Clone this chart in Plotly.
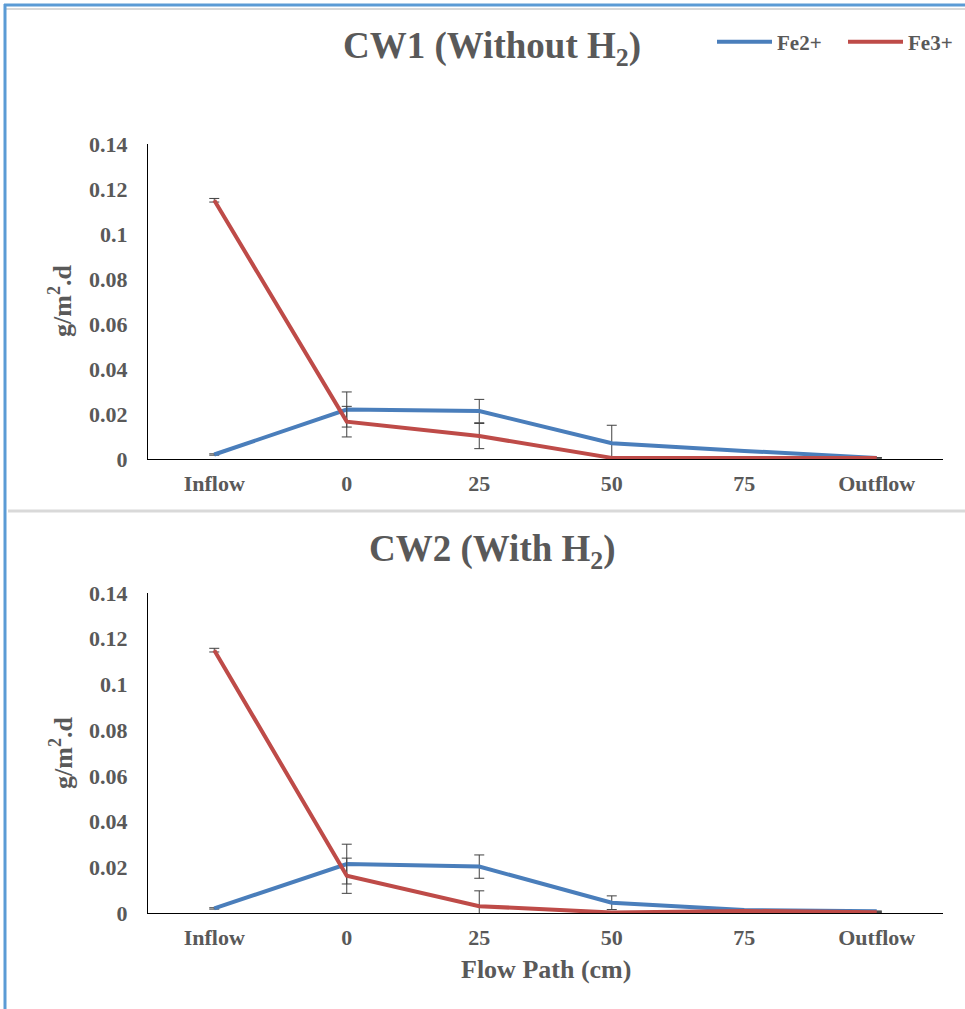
import plotly.graph_objects as go

categories = ["Inflow", "0", "25", "50", "75", "Outflow"]

cw1_fe2 = [0.002, 0.022, 0.0213, 0.007, 0.0036, 0.0005]
cw1_fe2_err = [0.0003, 0.0078, 0.0052, 0.008, 0.0, 0.0]
cw1_fe3 = [0.115, 0.0166, 0.0102, 0.0005, 0.0005, 0.0005]
cw1_fe3_err = [0.0008, 0.0068, 0.0056, 0.0, 0.0, 0.0]

cw2_fe2 = [0.002, 0.0214, 0.0203, 0.0045, 0.0013, 0.0008]
cw2_fe2_err = [0.0003, 0.0087, 0.0051, 0.003, 0.0, 0.0]
cw2_fe3 = [0.115, 0.0163, 0.003, 0.0002, 0.0009, 0.0003]
cw2_fe3_err = [0.0008, 0.0077, 0.0067, 0.0, 0.0, 0.0]

y_ticks = [0, 0.02, 0.04, 0.06, 0.08, 0.1, 0.12, 0.14]
y_ticktext = ["0", "0.02", "0.04", "0.06", "0.08", "0.1", "0.12", "0.14"]

BLUE = "#4a7ebb"
RED = "#be4b48"
GREY = "#595959"
FONT = "Liberation Serif"

W, H = 965, 1009

def px_x(x):
    return x / W

def px_y(y):
    return 1 - y / H

fig = go.Figure()

def add_series(y, err, name, color, xa, ya, show, legend):
    fig.add_trace(go.Scatter(
        x=categories, y=y, name=name, mode="lines",
        line=dict(color=color, width=4),
        error_y=dict(type="data", array=err, visible=True,
                     color="#404040", thickness=1, width=5),
        xaxis=xa, yaxis=ya, showlegend=show, legend=legend,
    ))

add_series(cw1_fe2, cw1_fe2_err, "Fe2+", BLUE, "x", "y", True, "legend")
add_series(cw1_fe3, cw1_fe3_err, "Fe3+", RED, "x", "y", True, "legend2")
add_series(cw2_fe2, cw2_fe2_err, "Fe2+", BLUE, "x2", "y2", False, "legend")
add_series(cw2_fe3, cw2_fe3_err, "Fe3+", RED, "x2", "y2", False, "legend2")

tick_font = dict(family=FONT, size=22, color=GREY, weight="bold")

xaxis_common = dict(
    type="category", categoryorder="array", categoryarray=categories,
    range=[-0.5, 5.5], showline=True, linecolor="#000000", linewidth=1,
    showgrid=False, zeroline=False, ticks="", automargin=False,
    tickfont=tick_font, ticklabelstandoff=5,
)
yaxis_common = dict(
    range=[0, 0.14], tickvals=y_ticks, ticktext=y_ticktext,
    showline=True, linecolor="#000000", linewidth=1,
    showgrid=False, zeroline=False, ticks="", automargin=False,
    tickfont=tick_font, ticklabelstandoff=15,
)

legend_font = dict(family=FONT, size=21, color=GREY, weight="bold")
legend_common = dict(orientation="h", xanchor="left", yanchor="middle",
                     bgcolor="rgba(0,0,0,0)", font=legend_font,
                     itemwidth=55, tracegroupgap=0)

fig.update_layout(
    width=W, height=H, autosize=False,
    margin=dict(l=0, r=0, t=0, b=0, autoexpand=False),
    paper_bgcolor="white", plot_bgcolor="white",
    xaxis=dict(domain=[px_x(148), px_x(943)], anchor="y", **xaxis_common),
    yaxis=dict(domain=[px_y(459), px_y(144)], anchor="x", **yaxis_common),
    xaxis2=dict(domain=[px_x(148), px_x(943)], anchor="y2", **xaxis_common),
    yaxis2=dict(domain=[px_y(913), px_y(593)], anchor="x2", **yaxis_common),
    legend=dict(x=px_x(712), y=px_y(42), **legend_common),
    legend2=dict(x=px_x(843), y=px_y(42), **legend_common),
    showlegend=True,
)

title_font = dict(family=FONT, size=37, color=GREY, weight="bold")
axis_font = dict(family=FONT, size=26, color=GREY, weight="bold")

fig.add_annotation(text="CW1 (Without H<sub>2</sub>)", x=px_x(492), y=px_y(48),
                   xref="paper", yref="paper", showarrow=False, font=title_font,
                   xanchor="center", yanchor="middle")
fig.add_annotation(text="CW2 (With H<sub>2</sub>)", x=px_x(493), y=px_y(551),
                   xref="paper", yref="paper", showarrow=False, font=title_font,
                   xanchor="center", yanchor="middle")
fig.add_annotation(text="g/m<sup>2</sup>.d", x=px_x(61), y=px_y(301),
                   xref="paper", yref="paper", showarrow=False, font=axis_font,
                   textangle=-90, xanchor="center", yanchor="middle")
fig.add_annotation(text="g/m<sup>2</sup>.d", x=px_x(61), y=px_y(753),
                   xref="paper", yref="paper", showarrow=False, font=axis_font,
                   textangle=-90, xanchor="center", yanchor="middle")
fig.add_annotation(text="Flow Path (cm)", x=px_x(546), y=px_y(969),
                   xref="paper", yref="paper", showarrow=False, font=axis_font,
                   xanchor="center", yanchor="middle")

# frame decorations (chart selection border and separator)
fig.add_shape(type="line", xref="paper", yref="paper",
              x0=px_x(4), x1=1, y0=px_y(9), y1=px_y(9),
              line=dict(color="#d9d9d9", width=2))
fig.add_shape(type="line", xref="paper", yref="paper",
              x0=px_x(4), x1=1, y0=px_y(5), y1=px_y(5),
              line=dict(color="#5b9bd5", width=3))
fig.add_shape(type="line", xref="paper", yref="paper",
              x0=px_x(5), x1=px_x(5), y0=0, y1=px_y(4),
              line=dict(color="#5b9bd5", width=3))
fig.add_shape(type="line", xref="paper", yref="paper",
              x0=px_x(8), x1=1, y0=px_y(511), y1=px_y(511),
              line=dict(color="#d9d9d9", width=3))

fig.write_html("out.html", config={"displayModeBar": False},
               post_script="document.body.style.margin='0';document.body.style.overflow='hidden';")
